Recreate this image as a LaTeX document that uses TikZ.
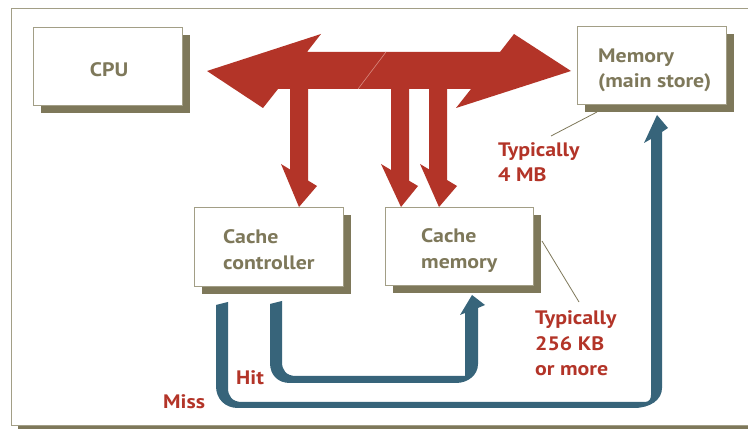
\documentclass[tikz,border=0pt]{standalone}
\usepackage{fontspec}
\setmainfont{PT Sans}[FakeStretch=1.12]
\definecolor{olive}{HTML}{7E785A}
\definecolor{oliveline}{HTML}{A29E86}
\definecolor{arrred}{HTML}{B33428}
\definecolor{seamred}{HTML}{D98A80}
\definecolor{arrblue}{HTML}{37647A}
\begin{document}
\begin{tikzpicture}[x=1pt,y=-1pt,
  boxstyle/.style={draw=oliveline,line width=1pt,fill=white},
  shadowstyle/.style={fill=olive},
  lbl/.style={font=\fontsize{19.5}{24}\selectfont\bfseries,text=olive,inner sep=0pt,anchor=base west},
  note/.style={font=\fontsize{19.5}{24}\selectfont\bfseries,text=arrred,inner sep=0pt,anchor=base west},
  leader/.style={draw=olive,line width=0.8pt},
  redarrow/.style={fill=arrred},
  bluearrow/.style={fill=arrblue}]
\useasboundingbox (0,0) rectangle (748,430);
% frame
\fill[shadowstyle] (18,16) rectangle (770,429);
\draw[boxstyle] (11,9) rectangle (765,426);
% boxes with shadows
\fill[shadowstyle] (41,35) rectangle (190,113);
\draw[boxstyle] (33,28) rectangle (182,106);
\fill[shadowstyle] (585,34) rectangle (734,112);
\draw[boxstyle] (577,27) rectangle (726,105);
\fill[shadowstyle] (202,215) rectangle (351,294);
\draw[boxstyle] (194,208) rectangle (343,287);
\fill[shadowstyle] (393,215) rectangle (541,293);
\draw[boxstyle] (385,208) rectangle (533,286);
% box labels
\node[lbl,anchor=base] (cpu) at (109,77) {CPU};
\node[lbl] (mem1) at (598,63) {Memory};
\node[lbl] (mem2) at (598,88) {(main store)};
\node[lbl] (cc1) at (223,244) {Cache};
\node[lbl] (cc2) at (223,270) {controller};
\node[lbl] (cm1) at (421,243) {Cache};
\node[lbl] (cm2) at (421,269) {memory};
% red bus arrows
\fill[redarrow] (207,71) -- (321,34) -- (307,52) -- (500,52) -- (514,34) -- (571,71)
  -- (456,108) -- (471,89) -- (278,89) -- (263,108) -- cycle;
\fill[redarrow] (290,85) -- (290,169.5) -- (281,164) -- (299,207) -- (317,186) -- (308,180.5) -- (308,85) -- cycle;
\fill[redarrow] (391,85) -- (391,170) -- (381,164) -- (401,207) -- (418,186) -- (409,180.7) -- (409,85) -- cycle;
\fill[redarrow] (429,85) -- (429,169.4) -- (420,164) -- (439,207) -- (457,186) -- (447,180) -- (447,85) -- cycle;
\coordinate (seamA) at (358,89);
\coordinate (seamB) at (386,52);
\draw[seamred,line width=0.6pt] (seamA) -- (seamB);
% blue Hit arrow
\fill[bluearrow] (270,304) -- (282,301) -- (282,362)
  .. controls (282,370) and (286,376) .. (296,376)
  -- (465,376) -- (465,313) -- (460,315) -- (472,295) -- (485,305) -- (478,308)
  -- (478,364) .. controls (478,375) and (468,383) .. (456,383)
  -- (290,383) .. controls (278,383) and (270,375) .. (270,363) -- cycle;
% blue Miss arrow
\fill[bluearrow] (216,305) -- (228,302) -- (228,388)
  .. controls (228,396) and (232,402) .. (242,402)
  -- (645,402) .. controls (649,402) and (651,399) .. (651,395)
  -- (651,139) -- (644,143) -- (657,115) -- (668,128) -- (662,132)
  -- (662,388) .. controls (662,400) and (650,408) .. (634,408)
  -- (238,408) .. controls (225,408) and (216,399) .. (216,386) -- cycle;
% annotations
\node[note] (t1a) at (498,157) {Typically};
\node[note] (t1b) at (498,182) {4 MB};
\node[note] (t2a) at (535,325) {Typically};
\node[note] (t2b) at (535,351) {256 KB};
\node[note] (t2c) at (535,376) {or more};
\node[note] (hit) at (236,385) {Hit};
\node[note] (miss) at (163,409) {Miss};
\coordinate (l1a) at (551,136);
\coordinate (l1b) at (597,112);
\draw[leader] (l1a) -- (l1b);
\coordinate (l2a) at (542,241);
\coordinate (l2b) at (579,302);
\draw[leader] (l2a) -- (l2b);
\end{tikzpicture}
\end{document}
